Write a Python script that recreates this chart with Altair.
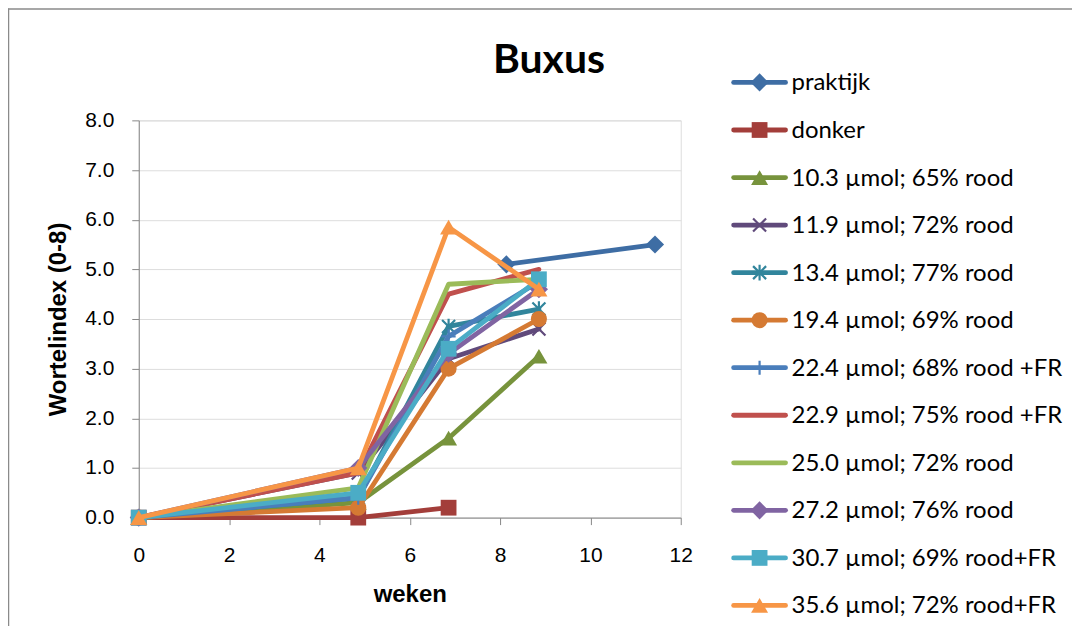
import altair as alt
import pandas as pd

# ---- data ----
TITLE = "Buxus"
SERIES = [
    "praktijk", "donker", "10.3 µmol; 65% rood", "11.9 µmol; 72% rood",
    "13.4 µmol; 77% rood", "19.4 µmol; 69% rood", "22.4 µmol; 68% rood +FR",
    "22.9 µmol; 75% rood +FR", "25.0 µmol; 72% rood", "27.2 µmol; 76% rood",
    "30.7 µmol; 69% rood+FR", "35.6 µmol; 72% rood+FR",
]
WEKEN = [0, 4.86, 6.86, 8.86]
PRAKTIJK_WEKEN = [8.14, 11.43]
PRAKTIJK = [5.1, 5.5]
DONKER = [0.0, 0.0, 0.2]
S10_3 = [0.0, 0.3, 1.6, 3.25]
S11_9 = [0.0, 0.9, 3.2, 3.8]
S13_4 = [0.0, 0.4, 3.85, 4.2]
S19_4 = [0.0, 0.2, 3.0, 4.0]
S22_4 = [0.0, 0.4, 3.65, 4.75]
S22_9 = [0.0, 0.9, 4.5, 5.0]
S25_0 = [0.0, 0.6, 4.7, 4.8]
S27_2 = [0.0, 1.0, 3.3, 4.6]
S30_7 = [0.0, 0.5, 3.4, 4.8]
S35_6 = [0.0, 1.0, 5.85, 4.6]

COLORS = ["#3E6DA4", "#A33E3A", "#77933C", "#604A7B", "#31859C", "#D57A33",
          "#4A7EBB", "#C0504D", "#9BBB59", "#8064A2", "#4BACC6", "#F79646"]

X_PATH = "M-1,-1L1,1M-1,1L1,-1"
AST_PATH = "M-1,-1L1,1M-1,1L1,-1M0,-1.2L0,1.2"
PLUS_PATH = "M-1,0L1,0M0,-1L0,1"
# (shape, filled, size)
MARKERS = [
    ("diamond", True, 330), ("square", True, 250), ("triangle-up", True, 290),
    (X_PATH, False, 170), (AST_PATH, False, 170), ("circle", True, 260),
    (PLUS_PATH, False, 200), (None, True, 0), (None, True, 0),
    ("diamond", True, 330), ("square", True, 250), ("triangle-up", True, 290),
]

XS = [PRAKTIJK_WEKEN, WEKEN[:3]] + [WEKEN] * 10
YS = [PRAKTIJK, DONKER, S10_3, S11_9, S13_4, S19_4, S22_4, S22_9, S25_0, S27_2, S30_7, S35_6]

FONT = "Lato"
LW = 4.8
W, H = 543, 398

xscale = alt.Scale(domain=[0, 12], nice=False, zero=False)
yscale = alt.Scale(domain=[0, 8], nice=False)
xaxis = alt.Axis(values=[0, 2, 4, 6, 8, 10, 12], title="weken", grid=False,
                 labelFontSize=21, titleFontSize=24, titleFontWeight="bold",
                 tickSize=7, labelPadding=20, titlePadding=17, format="d",
                 labelFlush=False)
yaxis = alt.Axis(values=[0, 1, 2, 3, 4, 5, 6, 7, 8], title="Wortelindex (0-8)",
                 grid=True, labelFontSize=21, titleFontSize=24, titleFontWeight="bold",
                 tickSize=7, labelPadding=18, titlePadding=14, format=".1f",
                 labelFlush=False)

series_layers = []
for name, xs, ys, col, (shape, filled, size) in zip(SERIES, XS, YS, COLORS, MARKERS):
    df = pd.DataFrame({"weken": xs, "index": ys, "serie": name})
    base = alt.Chart(df).encode(
        x=alt.X("weken:Q", scale=xscale, axis=xaxis),
        y=alt.Y("index:Q", scale=yscale, axis=yaxis),
    )
    series_layers.append(base.mark_line(color=col, strokeWidth=LW,
                                        strokeJoin="round", strokeCap="round"))
    if shape:
        series_layers.append(base.mark_point(shape=shape, filled=filled, color=col,
                                             size=size, opacity=1, strokeWidth=2.2))
main = alt.layer(*series_layers)

# ---- legend, positioned through its own point scale ----
legy = alt.Scale(type="point", domain=SERIES, range=[-38, 486], padding=0)
legend_layers = []
for name, col, (shape, filled, size) in zip(SERIES, COLORS, MARKERS):
    ldf = pd.DataFrame({"serie": [name]})
    lb = alt.Chart(ldf).encode(y=alt.Y("serie:N", scale=legy, axis=None))
    legend_layers.append(lb.mark_rule(color=col, strokeWidth=LW, strokeCap="round")
                         .encode(x=alt.value(596), x2=alt.value(648)))
    if shape:
        legend_layers.append(lb.mark_point(shape=shape, filled=filled, color=col,
                                           size=size, opacity=1, strokeWidth=2.2)
                             .encode(x=alt.value(622)))
    legend_layers.append(lb.mark_text(align="left", baseline="middle", font=FONT,
                                      fontSize=24, color="black", dy=1)
                         .encode(x=alt.value(654), text="serie:N"))
legend = alt.layer(*legend_layers)

title = alt.Chart(pd.DataFrame({"t": [TITLE]})).mark_text(
    font=FONT, fontSize=41, fontWeight="bold", align="center",
    baseline="alphabetic", color="black"
).encode(x=alt.value(411), y=alt.value(-47), text="t:N")

# chart-area border (left and top edges are inside the picture)
edge = pd.DataFrame({"a": [0]})
left_edge = alt.Chart(edge).mark_rule(color="#8a8a8a", strokeWidth=1.5).encode(
    x=alt.value(-130.5), y=alt.value(-112), y2=alt.value(520))
top_edge = alt.Chart(edge).mark_rule(color="#8a8a8a", strokeWidth=1.5).encode(
    x=alt.value(-131), x2=alt.value(945), y=alt.value(-111.5))

chart = alt.layer(main, legend, title, left_edge, top_edge).resolve_scale(
    y="independent"
).properties(
    width=W, height=H,
    autosize=alt.AutoSizeParams(type="none"),
    padding={"left": 131, "top": 112, "right": 392, "bottom": 108},
).configure_axis(
    labelFont=FONT, titleFont=FONT, labelColor="black", titleColor="black",
    domainColor="#868686", domainWidth=1.5, tickColor="#868686", tickWidth=1.5,
    gridColor="#8e8e8e", gridWidth=1.5,
).configure_view(stroke=None).configure(background="white")

chart.save("out.html", embed_options={"renderer": "svg", "actions": False})
